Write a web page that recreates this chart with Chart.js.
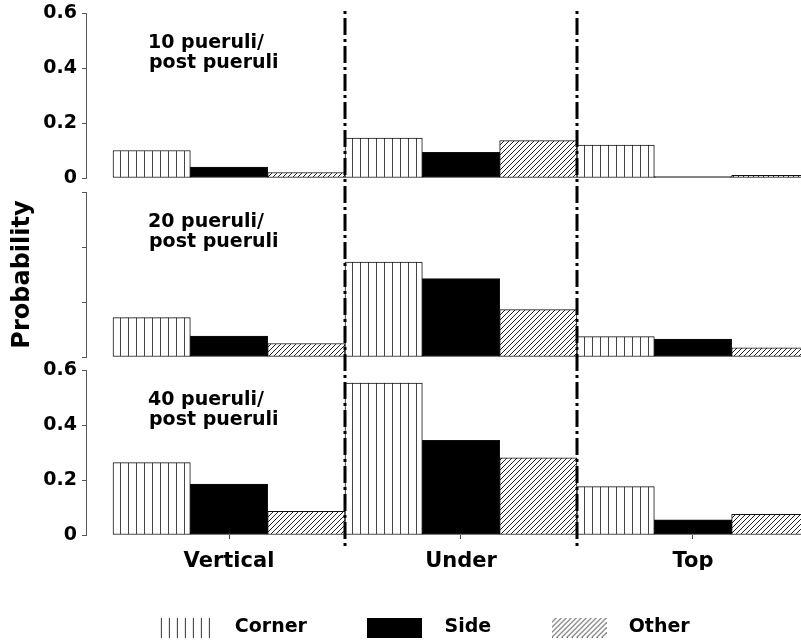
<!DOCTYPE html>
<html>
<head>
<meta charset="utf-8">
<script src="https://cdn.jsdelivr.net/npm/chart.js@4.4.1/dist/chart.umd.min.js"></script>
<style>
  html, body { margin: 0; padding: 0; background: #fff; overflow: hidden; }
  canvas { display: block; }
</style>
</head>
<body>
<canvas id="c" width="835" height="647"></canvas>
<script>
// Settlement position categories and the three surface types
const categories = ['Vertical', 'Under', 'Top'];
const series = ['Corner', 'Side', 'Other'];
const yTickLabels = ['0', '0.2', '0.4', '0.6'];
const panelTitles = [
  ['10 pueruli/', 'post pueruli'],
  ['20 pueruli/', 'post pueruli'],
  ['40 pueruli/', 'post pueruli']
];

// Probabilities, one value per category (Vertical, Under, Top)
const corner10 = [0.100, 0.145, 0.120];
const side10   = [0.040, 0.093, 0.005];
const other10  = [0.020, 0.136, 0.010];

const corner20 = [0.143, 0.345, 0.074];
const side20   = [0.076, 0.285, 0.065];
const other20  = [0.049, 0.172, 0.033];

const corner40 = [0.263, 0.552, 0.176];
const side40   = [0.185, 0.344, 0.055];
const other40  = [0.086, 0.281, 0.075];

const FONT = 'DejaVu Sans';
const canvas = document.getElementById('c');
const ctx = canvas.getContext('2d');

function tile(w, h, paint) {
  const c = document.createElement('canvas');
  c.width = w; c.height = h;
  paint(c.getContext('2d'), w, h);
  return c;
}
function paintVertical(g, w, h) {
  g.fillStyle = '#fff';
  g.fillRect(0, 0, w, h);
  g.fillStyle = '#444';
  g.fillRect(0, 0, 1, h);
}
function strokeDiagonal(g) {
  g.strokeStyle = '#222';
  g.lineWidth = 1;
  g.beginPath();
  g.moveTo(0, 5); g.lineTo(5, 0);
  g.moveTo(-1, 1); g.lineTo(1, -1);
  g.moveTo(4, 6); g.lineTo(6, 4);
  g.stroke();
}
function paintDiagonal(g, w, h) {
  g.fillStyle = '#fff';
  g.fillRect(0, 0, w, h);
  strokeDiagonal(g);
}

const verticalHatch = ctx.createPattern(tile(8, 8, paintVertical), 'repeat');
const diagonalHatch = ctx.createPattern(tile(5, 5, paintDiagonal), 'repeat');
const fills = [verticalHatch, '#000', diagonalHatch];

// Legend swatches
const swatches = [
  tile(55, 20, (g, w, h) => {
    g.fillStyle = '#333';
    for (let x = 3; x < w; x += 8) g.fillRect(x, 0, 1, h);
  }),
  tile(55, 20, (g, w, h) => { g.fillStyle = '#000'; g.fillRect(0, 0, w, h); }),
  tile(55, 20, (g, w, h) => {
    g.fillStyle = g.createPattern(tile(5, 5, strokeDiagonal), 'repeat');
    g.fillRect(0, 0, w, h);
  })
];

const panels = [
  { axis: 'y10', values: [corner10, side10, other10] },
  { axis: 'y20', values: [corner20, side20, other20] },
  { axis: 'y40', values: [corner40, side40, other40] }
];

const datasets = [];
panels.forEach(p => {
  series.forEach((name, k) => {
    datasets.push({
      label: name,
      stack: name,
      yAxisID: p.axis,
      data: p.values[k].map((v, i) => ({ x: i, y: v })),
      backgroundColor: fills[k],
      borderColor: '#111',
      borderWidth: 1,
      borderSkipped: false,
      categoryPercentage: 1,
      barPercentage: 1
    });
  });
});

// Fixed axis column width; the outer margins come from layout padding
const fitWidth = s => {
  s.width = 86;
  s.paddingTop = 0;
  s.paddingBottom = 0;
};

function panelScale(order, showLabels, title) {
  return {
    type: 'linear',
    position: 'left',
    stack: 'panels',
    stackWeight: 165,
    weight: order,
    stacked: false,
    min: 0,
    max: 0.6,
    ticks: {
      stepSize: 0.2,
      padding: 5,
      color: '#000',
      font: { family: FONT, size: 19, weight: 'bold' },
      callback: (v, i) => (showLabels ? yTickLabels[i] : '')
    },
    grid: { drawOnChartArea: false, drawTicks: true, tickLength: 4, color: '#555' },
    border: { display: true, color: '#555', width: 1 },
    title: title ? {
      display: true,
      text: title,
      color: '#000',
      font: { family: FONT, size: 24, weight: 'bold' },
      padding: { top: 8, bottom: 0 }
    } : { display: false },
    afterFit: fitWidth
  };
}

function spacerScale(order, size) {
  return {
    type: 'linear',
    position: 'left',
    stack: 'panels',
    stackWeight: size,
    weight: order,
    display: true,
    ticks: { display: false },
    grid: { display: false, drawTicks: false },
    border: { display: false },
    afterFit: fitWidth
  };
}

// Dash-dot separators between the category groups
const separators = {
  id: 'separators',
  afterDatasetsDraw(chart) {
    const { ctx, chartArea } = chart;
    const xs = chart.scales.x;
    ctx.save();
    ctx.strokeStyle = '#000';
    ctx.lineWidth = 3;
    ctx.setLineDash([3, 4, 17, 4]);
    for (let i = 0; i < categories.length - 1; i++) {
      const x = Math.round(xs.getPixelForValue(i + 0.5));
      ctx.beginPath();
      ctx.moveTo(x, chartArea.top - 2);
      ctx.lineTo(x, chartArea.bottom + 12);
      ctx.stroke();
    }
    ctx.restore();
  }
};

// Two-line caption inside each panel
const panelCaptions = {
  id: 'panelCaptions',
  afterDraw(chart) {
    const { ctx, chartArea } = chart;
    ctx.save();
    ctx.font = 'bold 19px "' + FONT + '"';
    ctx.fillStyle = '#000';
    ctx.textAlign = 'left';
    ctx.textBaseline = 'middle';
    panels.forEach((p, n) => {
      const s = chart.scales[p.axis];
      ctx.fillText(panelTitles[n][0], chartArea.left + 62, s.top + 30);
      ctx.fillText(panelTitles[n][1], chartArea.left + 63, s.top + 50);
    });
    ctx.restore();
  }
};

new Chart(ctx, {
  type: 'bar',
  data: { datasets },
  options: {
    responsive: false,
    devicePixelRatio: 1,
    animation: false,
    events: [],
    layout: { padding: { top: 13, left: 0, right: 0, bottom: 0 } },
    scales: {
      x: {
        type: 'linear',
        position: 'bottom',
        offset: false,
        min: -0.6164,
        max: 2.6121,
        afterBuildTicks: s => { s.ticks = categories.map((c, i) => ({ value: i })); },
        afterFit: s => { s.height = 35; },
        ticks: {
          autoSkip: false,
          maxRotation: 0,
          padding: 10,
          color: '#000',
          font: { family: FONT, size: 21, weight: 'bold' },
          callback: v => categories[v]
        },
        grid: { offset: false, drawOnChartArea: false, drawTicks: true, tickLength: 4, color: '#444' },
        border: { display: false }
      },
      y10: panelScale(5, true, null),
      gapA: spacerScale(4, 14),
      y20: panelScale(3, false, 'Probability'),
      gapB: spacerScale(2, 13),
      y40: panelScale(1, true, null)
    },
    plugins: {
      tooltip: { enabled: false },
      legend: {
        position: 'bottom',
        onClick: () => {},
        labels: {
          usePointStyle: true,
          pointStyleWidth: 80,
          padding: 48,
          color: '#000',
          font: { family: FONT, size: 19, weight: 'bold' },
          generateLabels: () => series.map((name, k) => ({
            text: name,
            pointStyle: swatches[k],
            fillStyle: '#000',
            strokeStyle: 'rgba(0,0,0,0)',
            lineWidth: 0,
            hidden: false,
            datasetIndex: k
          }))
        }
      }
    }
  },
  plugins: [separators, panelCaptions]
});
</script>
</body>
</html>
